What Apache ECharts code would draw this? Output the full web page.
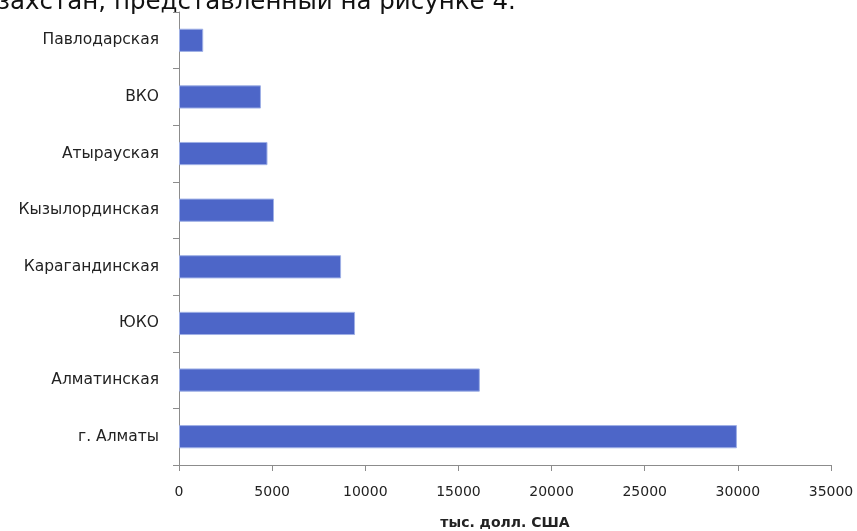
<!DOCTYPE html>
<html><head><meta charset="utf-8">
<script src="https://cdn.jsdelivr.net/npm/echarts@6/dist/echarts.min.js"></script>
<style>html,body{margin:0;padding:0;background:#fff}#c{width:857px;height:531px}</style>
</head><body><div id="c"></div>
<script>
const categories = ['Павлодарская','ВКО','Атырауская','Кызылординская','Карагандинская','ЮКО','Алматинская','г. Алматы'];
const values = [1300, 4400, 4750, 5100, 8700, 9450, 16150, 29950];
const axisName = 'тыс. долл. США';
const headText = 'захстан, представленный на рисунке 4.';

const chart = echarts.init(document.getElementById('c'));
chart.setOption({
  animation: false,
  grid: {left: 179, right: 26, top: 12, bottom: 66, containLabel: false, outerBoundsMode: 'none'},
  graphic: [{type: 'text', x: -3, y: 15, style: {text: headText, font: '24.5px "DejaVu Sans"', fill: '#111', verticalAlign: 'bottom', align: 'left'}}],
  xAxis: {
    type: 'value', min: 0, max: 35000, interval: 5000,
    splitLine: {show: false},
    axisLine: {show: true, lineStyle: {color: '#8c8c8c', width: 1}},
    axisTick: {show: true, length: 6, lineStyle: {color: '#8c8c8c'}},
    axisLabel: {color: '#222', fontFamily: 'DejaVu Sans', fontSize: 14, margin: 20, formatter: v => String(v)},
    name: axisName, nameLocation: 'middle', nameGap: 51,
    nameTextStyle: {color: '#222', fontFamily: 'DejaVu Sans', fontSize: 14, fontWeight: 'bold'}
  },
  yAxis: {
    type: 'category', data: categories, inverse: true,
    axisLine: {show: true, lineStyle: {color: '#8c8c8c', width: 1}},
    axisTick: {show: true, length: 6, alignWithLabel: false, lineStyle: {color: '#8c8c8c'}},
    axisLabel: {color: '#222', fontFamily: 'DejaVu Sans', fontSize: 15.5, margin: 20}
  },
  series: [{
    type: 'bar', data: values, barCategoryGap: '59%',
    itemStyle: {color: '#4d66c8', borderColor: '#9fb0e6', borderWidth: 1}
  }]
});
</script></body></html>
